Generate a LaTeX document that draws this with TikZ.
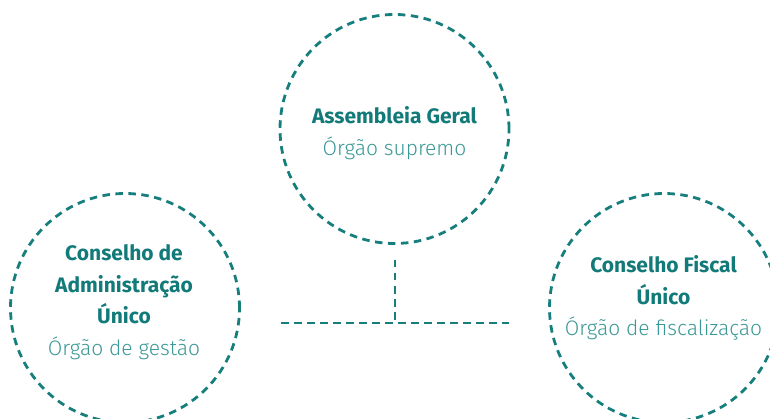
\documentclass[tikz,border=0pt]{standalone}
\usepackage{fontspec}
\setmainfont{Fira Sans}
\newfontfamily\lightfont{Fira Sans Light}
\definecolor{teal1}{HTML}{167F7D}
\definecolor{tealtxt}{HTML}{127A78}
\definecolor{tealsub}{HTML}{3A9896}
\tikzset{
  orgcircle/.style={circle, draw=teal1, line width=2.8pt, dash pattern=on 7.5pt off 5.5pt, minimum size=229pt, inner sep=0pt},
  orgtext/.style={align=center, text=tealtxt, font=\fontsize{21}{31.5}\selectfont},
  conn/.style={draw=teal1, line width=2.8pt, dash pattern=on 7.5pt off 5.5pt}
}
\newcommand{\sub}[1]{{\lightfont\color{tealsub}#1}}
\begin{document}
\begin{tikzpicture}[x=1pt,y=-1pt]
\useasboundingbox (0,0) rectangle (770,419);
\node[orgcircle] (ag) at (394.5,129) {};
\node[orgcircle] (ca) at (125,308) {};
\node[orgcircle] (cf) at (664,308) {};
\node[orgtext] (agt) at (394.5,133) {\bfseries Assembleia Geral\\\sub{Órgão supremo}};
\node[orgtext] (cat) at (124,302) {\bfseries Conselho de\\\bfseries Administração\\\bfseries Único\\\sub{Órgão de gestão}};
\node[orgtext] (cft) at (663.5,298) {\bfseries Conselho Fiscal\\\bfseries Único\\\sub{Órgão de fiscalização}};
\coordinate (vtop) at (395,260);
\coordinate (junc) at (395,323);
\coordinate (hl) at (281,323);
\coordinate (hr) at (509,323);
\draw[conn] (vtop) -- (junc);
\draw[conn] (hl) -- (hr);
\end{tikzpicture}
\end{document}
